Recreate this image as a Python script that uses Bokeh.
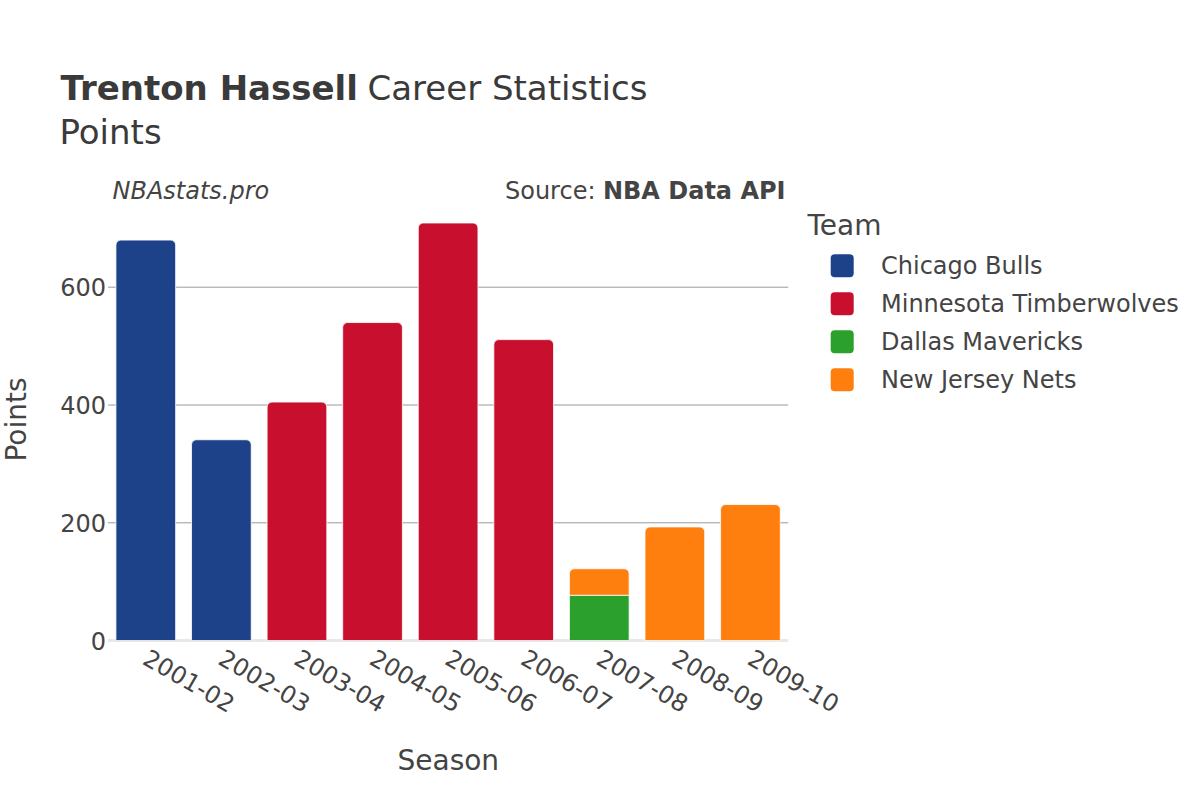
import math
from bokeh.plotting import figure
from bokeh.models import Range1d, ColumnDataSource
from bokeh.core.properties import value
from bokeh.embed import file_html
from bokeh.resources import INLINE

# ---------------- data ----------------
seasons = ["2001-02", "2002-03", "2003-04", "2004-05", "2005-06",
           "2006-07", "2007-08", "2008-09", "2009-10"]
teams = ["Chicago Bulls", "Minnesota Timberwolves", "Dallas Mavericks", "New Jersey Nets"]
colors = ["#1D428A", "#C8102E", "#2CA02C", "#FF7F0E"]
chicago = [680, 341, 0, 0, 0, 0, 0, 0, 0]
minnesota = [0, 0, 405, 540, 709, 511, 0, 0, 0]
dallas = [0, 0, 0, 0, 0, 0, 77, 0, 0]
nets = [0, 0, 0, 0, 0, 0, 45, 193, 231]
series = [chicago, minnesota, dallas, nets]
y_ticks = [0, 200, 400, 600]
y_tick_labels = ["0", "200", "400", "600"]

FONT = "DejaVu Sans"
TXT = "#444444"
TITLE_C = "#3a3a3a"

# ---------------- layout (pixels) ----------------
W, H = 1184, 784
FL = 107.5         # left edge of plotting area
CW = 75.58         # width of one category
Y0 = 640.1         # pixel row of value 0
PPU = 0.589        # pixels per point


def dx(px):
    return (px - FL) / CW


def dy(py):
    return (Y0 - py) / PPU


p = figure(width=W, height=H, output_backend="svg", toolbar_location=None,
           x_range=Range1d(dx(0), dx(W)), y_range=Range1d(dy(H), dy(0)),
           x_axis_type=None, y_axis_type=None, min_border=0)
p.title_location = None
p.outline_line_color = None
p.xgrid.visible = False
p.ygrid.visible = False
p.background_fill_color = "white"
p.border_fill_color = "white"

n = len(seasons)
centers = [i + 0.5 for i in range(n)]

# grid lines and zero line
grid_vals = [t for t in y_ticks if t != 0]
p.segment(x0=[0] * len(grid_vals), x1=[n] * len(grid_vals), y0=grid_vals, y1=grid_vals,
          line_color="#9a9a9a", line_width=1)
p.segment(x0=[0], x1=[n], y0=[0], y1=[0], line_color="#e8e8e8", line_width=3)

# stacked bars (only non-zero segments)
bottoms = [0] * n
for name, vals, col in zip(teams, series, colors):
    xs, bs, ts = [], [], []
    for i, v in enumerate(vals):
        if v > 0:
            xs.append(centers[i]); bs.append(bottoms[i]); ts.append(bottoms[i] + v)
            bottoms[i] += v
    src = ColumnDataSource(dict(x=xs, bottom=bs, top=ts))
    radius = 0 if name == "Dallas Mavericks" else (5, 5, 0, 0)
    p.vbar(x="x", bottom="bottom", top="top", width=0.79, source=src,
           fill_color=col, line_color="white", line_width=0.8,
           border_radius=radius)

# y tick labels
p.text(x=[0] * len(y_ticks), y=y_ticks, text=y_tick_labels, x_offset=-2,
       text_align="right", text_baseline="middle", text_font=value(FONT),
       text_font_size="24px", text_color=TXT)

# x tick labels (rotated)
p.text(x=centers, y=[0] * n, text=seasons, angle=-math.pi / 6, x_offset=4.5, y_offset=7,
       text_align="left", text_baseline="top", text_font=value(FONT),
       text_font_size="24px", text_color=TXT)


def txt(s, px, py, size, style="normal", align="left", color=TXT, angle=0.0):
    p.text(x=[dx(px)], y=[dy(py)], text=[s], angle=angle, text_align=align,
           text_baseline="middle", text_font=value(FONT), text_font_size=size,
           text_font_style=style, text_color=color)


# axis titles
txt("Points", 16, 419, "28px", align="center", angle=math.pi / 2)
txt("Season", 447.8, 760, "28px", align="center")

# titles
txt("Trenton Hassell", 60, 87.5, "34px", "bold", color=TITLE_C)
txt("Career Statistics", 367, 87.5, "34px", color=TITLE_C)
txt("Points", 59, 131.7, "34px", color=TITLE_C)
txt("NBAstats.pro", 112, 190.5, "24px", "italic")
txt("NBA Data API", 785, 190.5, "24px", "bold", align="right")
txt("Source:", 595, 190.5, "24px", align="right")

# legend (drawn with glyphs)
txt("Team", 807, 225, "28px")
sq = 11.5
leg_y = [265.3 + 38 * i for i in range(len(teams))]
p.quad(left=[dx(841.7 - sq)] * len(teams), right=[dx(841.7 + sq)] * len(teams),
       top=[dy(y - sq) for y in leg_y], bottom=[dy(y + sq) for y in leg_y],
       fill_color=colors, line_color=None, border_radius=4)
p.text(x=[dx(880.5)] * len(teams), y=[dy(y) for y in leg_y], text=teams,
       text_align="left", text_baseline="middle", text_font=value(FONT),
       text_font_size="24px", text_color=TXT)

open("out.html", "w").write(file_html(p, INLINE))
